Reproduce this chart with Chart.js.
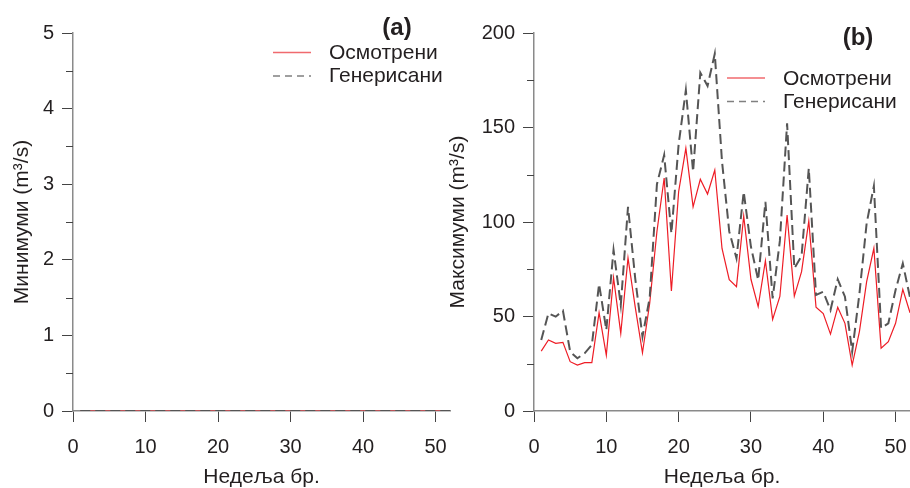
<!DOCTYPE html>
<html>
<head>
<meta charset="utf-8">
<script src="https://cdn.jsdelivr.net/npm/chart.js@4.4.1/dist/chart.umd.min.js"></script>
<style>
  html, body { margin: 0; padding: 0; background: #fff; }
  #wrap { position: relative; width: 910px; height: 488px; overflow: hidden; }
  #chart-a { position: absolute; left: 0; top: 0; }
  #chart-b { position: absolute; left: 430px; top: 0; }
</style>
</head>
<body>
<div id="wrap">
  <canvas id="chart-a" width="460" height="488"></canvas>
  <canvas id="chart-b" width="490" height="488"></canvas>
</div>
<script>
// weekly minimum / maximum flows, observed vs generated
const weeks = [1, 2, 3, 4, 5, 6, 7, 8, 9, 10, 11, 12, 13, 14, 15, 16, 17, 18, 19, 20, 21, 22, 23, 24, 25, 26,
  27, 28, 29, 30, 31, 32, 33, 34, 35, 36, 37, 38, 39, 40, 41, 42, 43, 44, 45, 46, 47, 48, 49, 50, 51, 52];

const minObserved = [0, 0, 0, 0, 0, 0, 0, 0, 0, 0, 0, 0, 0, 0, 0, 0, 0, 0, 0, 0, 0, 0, 0, 0, 0, 0,
  0, 0, 0, 0, 0, 0, 0, 0, 0, 0, 0, 0, 0, 0, 0, 0, 0, 0, 0, 0, 0, 0, 0, 0, 0, 0];
const minGenerated = [0, 0, 0, 0, 0, 0, 0, 0, 0, 0, 0, 0, 0, 0, 0, 0, 0, 0, 0, 0, 0, 0, 0, 0, 0, 0,
  0, 0, 0, 0, 0, 0, 0, 0, 0, 0, 0, 0, 0, 0, 0, 0, 0, 0, 0, 0, 0, 0, 0, 0, 0, 0];

const maxObserved = [31.7, 37.6, 35.8, 36.3, 26.1, 24.3, 25.6, 25.6, 52.0, 29.6, 70.5, 41.1, 81.0, 55.0, 30.8, 57.0,
  95.0, 123.3, 63.5, 116.0, 139.0, 108.0, 122.6, 114.8, 127.5, 86.0, 69.5, 65.8, 103.2, 69.7, 55.2, 79.5,
  48.5, 60.6, 103.7, 60.8, 73.7, 100.5, 54.9, 51.5, 40.7, 54.9, 46.4, 24.3, 42.0, 68.4, 86.1, 33.2,
  36.7, 46.4, 64.4, 52.0];
const maxGenerated = [37.6, 51.7, 49.9, 53.1, 31.4, 27.9, 30.5, 35.0, 67.2, 42.9, 85.2, 56.0, 108.0, 70.0, 39.3, 60.0,
  120.0, 135.4, 94.0, 141.0, 169.8, 126.6, 179.0, 172.0, 189.0, 132.0, 95.0, 80.8, 116.0, 86.9, 69.3, 110.7,
  59.6, 90.0, 152.2, 75.5, 82.0, 128.4, 61.4, 63.1, 53.4, 69.7, 60.5, 31.4, 62.0, 99.3, 119.0, 43.8,
  46.4, 64.0, 78.1, 60.0];

const seriesNames = ['Осмотрени', 'Генерисани'];
const xTitle = 'Недеља бр.';

const RED = '#ee1c25';
const GREY = '#555555';
const FONT = "'Liberation Sans', Arial, sans-serif";

function points(values) {
  return weeks.map((w, i) => ({ x: w, y: values[i] }));
}

// minor ticks + legend + panel letter
const decorPlugin = {
  id: 'decor',
  afterDraw(chart, args, opts) {
    const ctx = chart.ctx;
    const y = chart.scales.y;
    ctx.save();
    ctx.strokeStyle = '#444';
    ctx.lineWidth = 1;
    for (let v = y.min + opts.minorStep / 2; v < y.max; v += opts.minorStep) {
      const py = Math.round(y.getPixelForValue(v)) + 0.5;
      ctx.beginPath();
      ctx.moveTo(y.right - 7, py);
      ctx.lineTo(y.right, py);
      ctx.stroke();
    }

    ctx.font = 'bold 24px ' + FONT;
    ctx.fillStyle = '#231f20';
    ctx.textAlign = 'center';
    ctx.textBaseline = 'middle';
    ctx.fillText(opts.letter, opts.letterX, opts.letterY);

    const lx = opts.legendX, ly = opts.legendY;
    ctx.lineWidth = 1.3;
    ctx.strokeStyle = '#f06a6e';
    ctx.beginPath();
    ctx.moveTo(lx, ly);
    ctx.lineTo(lx + 38, ly);
    ctx.stroke();
    ctx.lineWidth = 1.6;
    ctx.strokeStyle = '#808080';
    ctx.setLineDash([7, 5]);
    ctx.beginPath();
    ctx.moveTo(lx, ly + 23.5);
    ctx.lineTo(lx + 38, ly + 23.5);
    ctx.stroke();
    ctx.setLineDash([]);

    ctx.font = '21px ' + FONT;
    ctx.textAlign = 'left';
    ctx.fillText(seriesNames[0], lx + 56, ly + 1);
    ctx.fillText(seriesNames[1], lx + 56, ly + 24);
    ctx.restore();
  }
};

function makeChart(canvasId, obs, gen, yMax, yStep, yTitle, yWidth, titlePad, padRight, decor) {
  return new Chart(document.getElementById(canvasId), {
    type: 'line',
    data: {
      datasets: [
        { label: seriesNames[0], data: points(obs), borderColor: RED, borderWidth: 1.2,
          pointRadius: 0, tension: 0, fill: false, order: 2 },
        { label: seriesNames[1], data: points(gen), borderColor: GREY, borderWidth: 2,
          borderDash: [10, 5], pointRadius: 0, tension: 0, fill: false, order: 1 }
      ]
    },
    options: {
      responsive: false,
      animation: false,
      devicePixelRatio: 1,
      layout: { padding: { top: 33, right: padRight, bottom: 0, left: 0 } },
      plugins: { legend: { display: false }, tooltip: { enabled: false }, decor: decor },
      scales: {
        x: {
          type: 'linear', min: 0, max: 52,
          afterFit: (s) => { s.height = 77; },
          grid: { drawOnChartArea: false, drawTicks: true, tickLength: 11, tickColor: '#444' },
          border: { color: '#8a8a8a', width: 1.5 },
          ticks: { stepSize: 10, includeBounds: false, padding: 13, color: '#231f20',
            font: { family: FONT, size: 20 } },
          title: { display: true, text: xTitle, color: '#231f20', padding: { top: 0, bottom: -1 },
            font: { family: FONT, size: 21, lineHeight: 1.1 } }
        },
        y: {
          min: 0, max: yMax,
          afterFit: (s) => { s.width = yWidth; },
          grid: { drawOnChartArea: false, drawTicks: true, tickLength: 11, tickColor: '#444' },
          border: { color: '#8a8a8a', width: 1.5 },
          ticks: { stepSize: yStep, padding: 8, color: '#231f20', font: { family: FONT, size: 20 } },
          title: { display: true, text: yTitle, color: '#231f20', padding: { top: titlePad, bottom: 0 },
            font: { family: FONT, size: 21, lineHeight: 1.1 } }
        }
      }
    },
    plugins: [decorPlugin]
  });
}

makeChart('chart-a', minObserved, minGenerated, 5, 1, 'Минимуми (m³/s)', 73, 11, 9,
  { minorStep: 1, letter: '(a)', letterX: 397, letterY: 28, legendX: 273, legendY: 52.5 });

makeChart('chart-b', maxObserved, maxGenerated, 200, 50, 'Максимуми (m³/s)', 104, 17, 8,
  { minorStep: 50, letter: '(b)', letterX: 428, letterY: 38, legendX: 297, legendY: 78 });
</script>
</body>
</html>
